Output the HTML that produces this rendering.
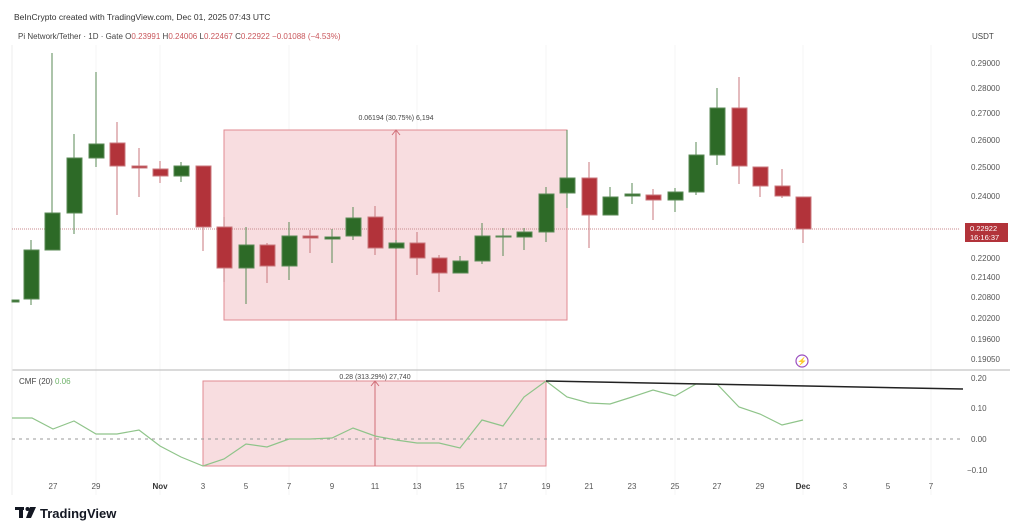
<!DOCTYPE html>
<html><head><meta charset="utf-8"><style>
html,body{margin:0;padding:0;background:#fff;width:1024px;height:530px;overflow:hidden}
svg{display:block;font-family:"Liberation Sans",sans-serif}
</style></head><body>
<svg width="1024" height="530" viewBox="0 0 1024 530" xmlns="http://www.w3.org/2000/svg">
<rect width="1024" height="530" fill="#fff"/>
<text x="14" y="20" font-size="8.5" fill="#333">BeInCrypto created with TradingView.com, Dec 01, 2025 07:43 UTC</text>
<text x="18" y="39" font-size="8" fill="#444">Pi Network/Tether · 1D · Gate  <tspan fill="#444">O</tspan><tspan fill="#c9575c">0.23991</tspan> <tspan fill="#444">H</tspan><tspan fill="#c9575c">0.24006</tspan> <tspan fill="#444">L</tspan><tspan fill="#c9575c">0.22467</tspan> <tspan fill="#444">C</tspan><tspan fill="#c9575c">0.22922</tspan> <tspan fill="#c9575c">−0.01088 (−4.53%)</tspan></text>
<text x="972" y="39" font-size="8" fill="#444">USDT</text>
<g stroke="#f5f5f5" stroke-width="1">
<line x1="96" y1="45" x2="96" y2="495"/><line x1="160" y1="45" x2="160" y2="495"/><line x1="289" y1="45" x2="289" y2="495"/><line x1="417" y1="45" x2="417" y2="495"/><line x1="546" y1="45" x2="546" y2="495"/><line x1="675" y1="45" x2="675" y2="495"/><line x1="803" y1="45" x2="803" y2="495"/><line x1="931" y1="45" x2="931" y2="495"/>
</g>
<line x1="12" y1="370" x2="1010" y2="370" stroke="#b5b5b5" stroke-width="1"/>
<line x1="12" y1="45" x2="12" y2="495" stroke="#eee"/>
<rect x="224" y="130" width="343" height="190" fill="#f8dde0" stroke="#e08a92" stroke-width="1"/>
<line x1="396" y1="320" x2="396" y2="131" stroke="#d06d76" stroke-width="1"/>
<path d="M392,135 L396,130 L400,135" fill="none" stroke="#d06d76"/>
<text x="396" y="120" font-size="7" fill="#444" text-anchor="middle">0.06194 (30.75%) 6,194</text>
<rect x="203" y="381" width="343" height="85" fill="#f8dde0" stroke="#e08a92" stroke-width="1"/>
<line x1="375" y1="466" x2="375" y2="382" stroke="#d06d76"/>
<path d="M371,386 L375,381 L379,386" fill="none" stroke="#d06d76"/>
<text x="375" y="379" font-size="7" fill="#444" text-anchor="middle">0.28 (313.29%) 27,740</text>
<line x1="12" y1="229" x2="960" y2="229" stroke="#c98a8e" stroke-width="1" stroke-dasharray="1,1"/>
<g stroke-width="1">
<g stroke="#5a8a56" fill="#2d6a27">
<rect x="12" y="300" width="7" height="2"/>
<line x1="31" y1="240" x2="31" y2="305"/><rect x="24" y="250" width="15" height="49"/>
<line x1="52" y1="53" x2="52" y2="250"/><rect x="45" y="213" width="15" height="37"/>
<line x1="74" y1="134" x2="74" y2="234"/><rect x="67" y="158" width="15" height="55"/>
<line x1="96" y1="72" x2="96" y2="167"/><rect x="89" y="144" width="15" height="14"/>
<line x1="181" y1="162" x2="181" y2="182"/><rect x="174" y="166" width="15" height="10"/>
<line x1="246" y1="227" x2="246" y2="304"/><rect x="239" y="245" width="15" height="23"/>
<line x1="289" y1="222" x2="289" y2="280"/><rect x="282" y="236" width="15" height="30"/>
<line x1="332" y1="229" x2="332" y2="263"/><rect x="325" y="237" width="15" height="2"/>
<line x1="353" y1="207" x2="353" y2="240"/><rect x="346" y="218" width="15" height="18"/>
<line x1="396" y1="240" x2="396" y2="249"/><rect x="389" y="243" width="15" height="5"/>
<line x1="460" y1="256" x2="460" y2="273"/><rect x="453" y="261" width="15" height="12"/>
<line x1="482" y1="223" x2="482" y2="264"/><rect x="475" y="236" width="15" height="25"/>
<line x1="503" y1="228" x2="503" y2="256"/><rect x="496" y="236" width="15" height="1"/>
<line x1="524" y1="228" x2="524" y2="250"/><rect x="517" y="232" width="15" height="5"/>
<line x1="546" y1="187" x2="546" y2="242"/><rect x="539" y="194" width="15" height="38"/>
<line x1="567" y1="130" x2="567" y2="208"/><rect x="560" y="178" width="15" height="15"/>
<line x1="610" y1="187" x2="610" y2="215"/><rect x="603" y="197" width="15" height="18"/>
<line x1="632" y1="183" x2="632" y2="204"/><rect x="625" y="194" width="15" height="2"/>
<line x1="675" y1="188" x2="675" y2="212"/><rect x="668" y="192" width="15" height="8"/>
<line x1="696" y1="142" x2="696" y2="195"/><rect x="689" y="155" width="15" height="37"/>
<line x1="717" y1="88" x2="717" y2="165"/><rect x="710" y="108" width="15" height="47"/>
</g>
<g stroke="#c9777c" fill="#b2333a">
<line x1="117" y1="122" x2="117" y2="215"/><rect x="110" y="143" width="15" height="23"/>
<line x1="139" y1="148" x2="139" y2="197"/><rect x="132" y="166" width="15" height="2"/>
<line x1="160" y1="161" x2="160" y2="183"/><rect x="153" y="169" width="15" height="7"/>
<line x1="203" y1="166" x2="203" y2="251"/><rect x="196" y="166" width="15" height="61"/>
<line x1="224" y1="217" x2="224" y2="282"/><rect x="217" y="227" width="15" height="41"/>
<line x1="267" y1="243" x2="267" y2="283"/><rect x="260" y="245" width="15" height="21"/>
<line x1="310" y1="230" x2="310" y2="253"/><rect x="303" y="236" width="15" height="2"/>
<line x1="375" y1="206" x2="375" y2="255"/><rect x="368" y="217" width="15" height="31"/>
<line x1="417" y1="232" x2="417" y2="275"/><rect x="410" y="243" width="15" height="15"/>
<line x1="439" y1="255" x2="439" y2="292"/><rect x="432" y="258" width="15" height="15"/>
<line x1="589" y1="162" x2="589" y2="248"/><rect x="582" y="178" width="15" height="37"/>
<line x1="653" y1="189" x2="653" y2="220"/><rect x="646" y="195" width="15" height="5"/>
<line x1="739" y1="77" x2="739" y2="184"/><rect x="732" y="108" width="15" height="58"/>
<line x1="760" y1="167" x2="760" y2="197"/><rect x="753" y="167" width="15" height="19"/>
<line x1="782" y1="169" x2="782" y2="198"/><rect x="775" y="186" width="15" height="10"/>
<line x1="803" y1="197" x2="803" y2="243"/><rect x="796" y="197" width="15" height="32"/>
</g>
</g>
<g font-size="8" fill="#555">
<text x="971" y="66">0.29000</text><text x="971" y="91">0.28000</text><text x="971" y="116">0.27000</text><text x="971" y="143">0.26000</text><text x="971" y="170">0.25000</text><text x="971" y="199">0.24000</text><text x="971" y="261">0.22000</text><text x="971" y="280">0.21400</text><text x="971" y="300">0.20800</text><text x="971" y="321">0.20200</text><text x="971" y="342">0.19600</text><text x="971" y="362">0.19050</text>
</g>
<rect x="965" y="223" width="43" height="19" fill="#b2333a"/>
<text x="970" y="231" font-size="7.5" fill="#fff">0.22922</text>
<text x="970" y="240" font-size="7.5" fill="#fff">16:16:37</text>
<circle cx="802" cy="361" r="6" fill="none" stroke="#9b4fc0" stroke-width="1.2"/>
<text x="802" y="364" font-size="8" fill="#9b4fc0" text-anchor="middle">⚡</text>
<text x="19" y="384" font-size="8" fill="#444">CMF (20) <tspan fill="#6fb36a">0.06</tspan></text>
<line x1="12" y1="439" x2="960" y2="439" stroke="#999" stroke-dasharray="3,4"/>
<polyline fill="none" stroke="#8fc48a" stroke-width="1.2" points="12,418 32,418 53,429 74,421 96,434 117,434 139,430 160,446 181,457 203,466 224,459 246,444 267,447 289,439 310,439 332,438 353,428 375,436 396,440 417,443 439,443 460,448 482,420 503,426 524,397 546,381 567,397 589,403 610,404 632,397 653,390 675,396 696,384 717,384 739,407 760,414 782,425 803,420"/>
<line x1="546" y1="381" x2="963" y2="389" stroke="#222" stroke-width="1.5"/>
<g font-size="8" fill="#555">
<text x="971" y="381">0.20</text><text x="971" y="411">0.10</text><text x="971" y="442">0.00</text><text x="967" y="473">−0.10</text>
</g>
<g font-size="8" fill="#555" text-anchor="middle">
<text x="53" y="489">27</text><text x="96" y="489">29</text><text x="160" y="489" font-weight="bold" fill="#333">Nov</text><text x="203" y="489">3</text><text x="246" y="489">5</text><text x="289" y="489">7</text><text x="332" y="489">9</text><text x="375" y="489">11</text><text x="417" y="489">13</text><text x="460" y="489">15</text><text x="503" y="489">17</text><text x="546" y="489">19</text><text x="589" y="489">21</text><text x="632" y="489">23</text><text x="675" y="489">25</text><text x="717" y="489">27</text><text x="760" y="489">29</text><text x="803" y="489" font-weight="bold" fill="#333">Dec</text><text x="845" y="489">3</text><text x="888" y="489">5</text><text x="931" y="489">7</text>
</g>
<g fill="#131722">
<rect x="15" y="507" width="9" height="3"/><rect x="19" y="507" width="4" height="11"/>
<circle cx="27.5" cy="509" r="2"/><path d="M30,507 L36,507 L31,518 L26,518 Z"/>
</g>
<text x="40" y="518" font-size="13" font-weight="bold" fill="#131722">TradingView</text>
</svg>
</body></html>
